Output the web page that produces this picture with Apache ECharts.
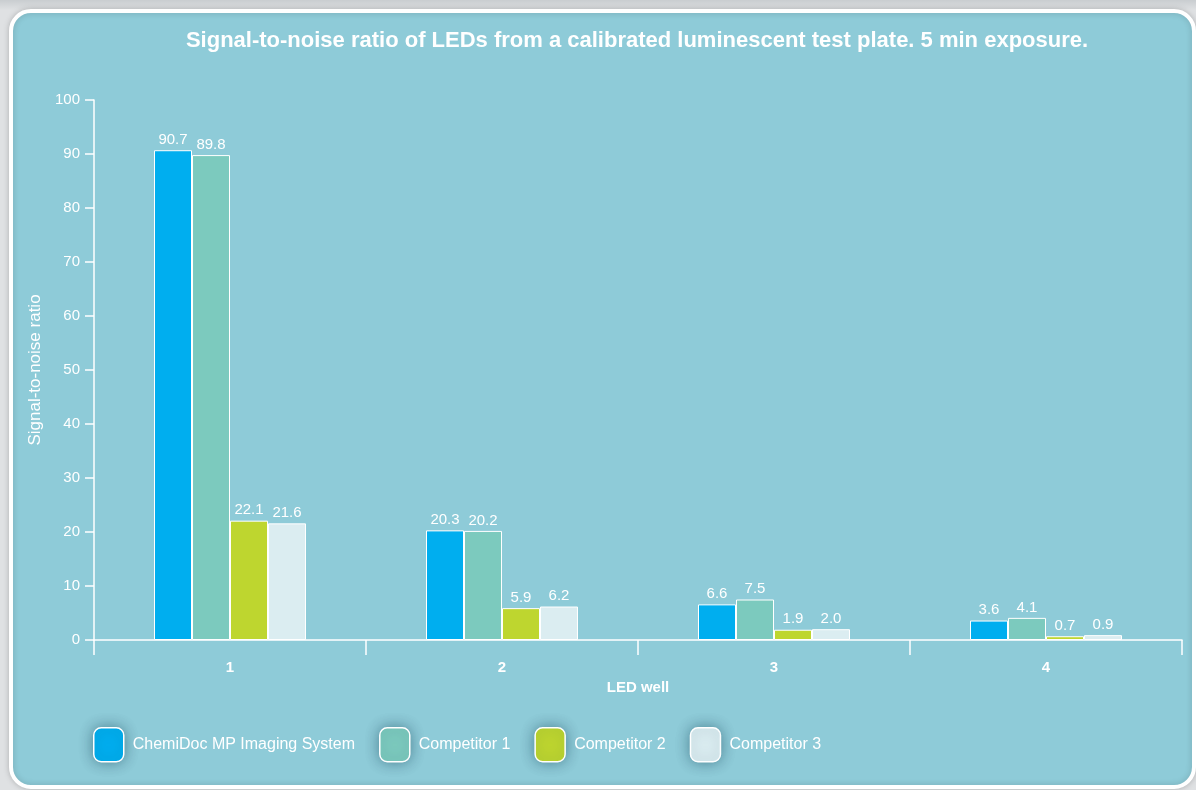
<!DOCTYPE html>
<html>
<head>
<meta charset="utf-8">
<script src="https://cdn.jsdelivr.net/npm/echarts@6/dist/echarts.min.js"></script>
<style>
html,body{margin:0;padding:0;background:linear-gradient(180deg,#c9cdd0 0px,#dfe1e3 10px,#dfe1e3 100%);}
#chart{width:1196px;height:790px;}
</style>
</head>
<body>
<div id="chart"></div>
<script>
const titleText = 'Signal-to-noise ratio of LEDs from a calibrated luminescent test plate. 5 min exposure.';
const categories = ['1', '2', '3', '4'];
const seriesNames = ['ChemiDoc MP Imaging System', 'Competitor 1', 'Competitor 2', 'Competitor 3'];
const chemiDoc = [90.7, 20.3, 6.6, 3.6];
const competitor1 = [89.8, 20.2, 7.5, 4.1];
const competitor2 = [22.1, 5.9, 1.9, 0.7];
const competitor3 = [21.6, 6.2, 2.0, 0.9];
const yAxisName = 'Signal-to-noise ratio';
const xAxisName = 'LED well';

const colors = ['#00aeef', '#7ccabe', '#bed62f', '#dbedf1'];
const values = [chemiDoc, competitor1, competitor2, competitor3];
const font = "'Liberation Sans', Arial, Helvetica, sans-serif";

const chart = echarts.init(document.getElementById('chart'), null, {renderer: 'canvas'});

const series = seriesNames.map((name, i) => ({
  name: name,
  type: 'bar',
  data: values[i],
  barWidth: 38,
  barGap: '0%',
  itemStyle: {color: colors[i], borderColor: '#ffffff', borderWidth: 1},
  label: {
    show: true,
    position: 'top',
    distance: 3,
    color: '#ffffff',
    fontSize: 15,
    fontFamily: font,
    formatter: p => p.value.toFixed(1)
  },
  z: 3
}));

chart.setOption({
  animation: false,
  textStyle: {fontFamily: font},
  graphic: [{
    type: 'rect',
    z: -10,
    shape: {x: 11, y: 11, width: 1183, height: 776, r: 20},
    style: {fill: '#8ecbd8', stroke: '#ffffff', lineWidth: 4, shadowBlur: 6, shadowColor: 'rgba(0,0,0,0.18)'}
  }],
  title: {
    text: titleText,
    left: 632,
    top: 25,
    textAlign: 'center',
    textStyle: {color: '#ffffff', fontSize: 22, fontWeight: 'bold', fontFamily: font}
  },
  legend: {
    data: seriesNames,
    left: 88,
    top: 722,
    icon: 'roundRect',
    itemWidth: 30,
    itemHeight: 34,
    itemGap: 24,
    itemStyle: {borderColor: '#ffffff', borderWidth: 1.5, shadowBlur: 14, shadowColor: 'rgba(0,50,70,0.45)'},
    textStyle: {color: '#ffffff', fontSize: 16, fontFamily: font, padding: [0, 0, 0, 4]}
  },
  grid: {left: 94, right: 14, top: 100, bottom: 150, containLabel: false},
  xAxis: {
    type: 'category',
    data: categories,
    name: xAxisName,
    nameLocation: 'middle',
    nameGap: 39,
    nameTextStyle: {color: '#ffffff', fontSize: 15, fontWeight: 'bold', fontFamily: font},
    axisLine: {lineStyle: {color: '#ffffff', width: 1.5}},
    axisTick: {show: true, length: 15, lineStyle: {color: '#ffffff', width: 1.5}},
    axisLabel: {color: '#ffffff', fontSize: 15, fontWeight: 'bold', margin: 20, fontFamily: font},
    splitLine: {show: false}
  },
  yAxis: {
    type: 'value',
    min: 0,
    max: 100,
    interval: 10,
    name: yAxisName,
    nameLocation: 'middle',
    nameGap: 45,
    nameRotate: 90,
    nameTextStyle: {color: '#ffffff', fontSize: 17, fontFamily: font},
    axisLine: {show: true, lineStyle: {color: '#ffffff', width: 1.5}},
    axisTick: {show: true, length: 9, lineStyle: {color: '#ffffff', width: 1.5}},
    axisLabel: {color: '#ffffff', fontSize: 15, margin: 14, fontFamily: font},
    splitLine: {show: false}
  },
  series: series
});
</script>
</body>
</html>
